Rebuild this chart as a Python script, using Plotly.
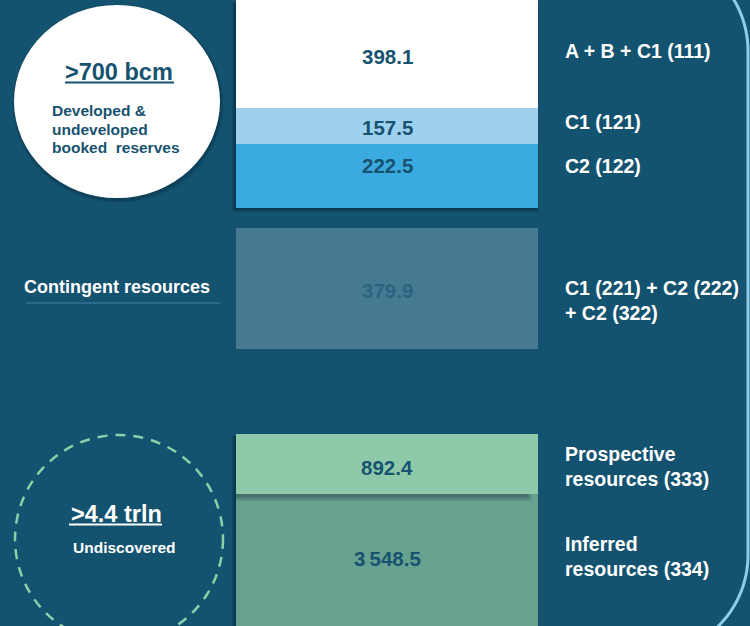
import numpy as np
import plotly.graph_objects as go

# ---------------- data ----------------
values = [398.1, 157.5, 222.5, 379.9, 892.4, 3548.5]
categories = [
    "A + B + C1 (111)",
    "C1 (121)",
    "C2 (122)",
    "C1 (221) + C2 (222)<br>+ C2 (322)",
    "Prospective<br>resources (333)",
    "Inferred<br>resources (334)",
]
group_titles = [">700 bcm", "Contingent resources", ">4.4 trln"]
group_notes = ["Developed &", "undeveloped", "booked  reserves", "Undiscovered"]

# ---------------- layout geometry (pixel-like units) ----------------
W, H = 750, 626
BAR_X, BAR_W = 387, 302
band_top = [0, 108, 144, 228, 434, 494]
band_h = [108, 36, 64, 121, 60, 140]
value_y = [56, 127, 165, 290, 467, 558]
label_y = [51, 122, 166, 300, 466, 556]
fills = ["#ffffff", "#9dd1ee", "#3aaae0", "#457a91", "#8ecaa9", "#67a190"]
txtcol = ["#17526f", "#17526f", "#17526f", "#2a6582", "#17526f", "#17526f"]
BG = "#14536f"
FONT = "Liberation Sans"


def fmt(v):
    return f"{v:,.1f}".replace(",", "\u2009")


fig = go.Figure()

for i, v in enumerate(values):
    fig.add_trace(go.Bar(
        x=[BAR_X], y=[band_h[i]], base=[band_top[i]], width=[BAR_W],
        marker=dict(color=fills[i], line=dict(width=0)),
        hovertext=[f"{categories[i]}: {fmt(v)}"], hoverinfo="text",
        showlegend=False,
    ))

ann = []
for i, v in enumerate(values):
    ann.append(dict(x=BAR_X, y=value_y[i], text=f"<b>{fmt(v)}</b>", showarrow=False,
                    xanchor="center", yanchor="middle",
                    font=dict(family=FONT, size=20.5, color=txtcol[i])))
    ann.append(dict(x=563, y=label_y[i], text=f"<b>{categories[i]}</b>", showarrow=False,
                    xanchor="left", yanchor="middle", align="left",
                    font=dict(family=FONT, size=19.5, color="white")))

# left group texts
ann.append(dict(x=119, y=72, text=f"<b>{group_titles[0]}</b>", showarrow=False,
                xanchor="center", yanchor="middle",
                font=dict(family=FONT, size=23.5, color="#17526f")))
for j, yy in enumerate([110, 129, 147]):
    ann.append(dict(x=50, y=yy, text=f"<b>{group_notes[j]}</b>", showarrow=False,
                    xanchor="left", yanchor="middle",
                    font=dict(family=FONT, size=15.5, color="#17526f")))
ann.append(dict(x=22, y=287, text=f"<b>{group_titles[1]}</b>", showarrow=False,
                xanchor="left", yanchor="middle",
                font=dict(family=FONT, size=18, color="white")))
ann.append(dict(x=116, y=514, text=f"<b>{group_titles[2]}</b>", showarrow=False,
                xanchor="center", yanchor="middle",
                font=dict(family=FONT, size=23.5, color="white")))
ann.append(dict(x=124, y=547, text=f"<b>{group_notes[3]}</b>", showarrow=False,
                xanchor="center", yanchor="middle",
                font=dict(family=FONT, size=15.5, color="white")))

shapes = []
# soft bar shadows (layered)
for k, a in enumerate([0.12, 0.14, 0.18]):
    d = 3 - k
    shapes.append(dict(type="rect", xref="x", yref="y", x0=236 - d - 1, x1=538 + d - 2,
                       y0=2, y1=208 + d + 1,
                       fillcolor=f"rgba(0,20,35,{a})", line=dict(width=0), layer="below"))
    shapes.append(dict(type="rect", xref="x", yref="y", x0=236 - d - 1, x1=538,
                       y0=436, y1=640,
                       fillcolor=f"rgba(0,20,35,{a})", line=dict(width=0), layer="below"))
# shadow of the light green band on the dark green one
for k, a in enumerate([0.10, 0.12, 0.15]):
    shapes.append(dict(type="rect", xref="x", yref="y", x0=236, x1=532 - 2 * k, y0=494, y1=501 - 2 * k,
                       fillcolor=f"rgba(0,20,35,{a})", line=dict(width=0), layer="above"))
# white circle soft shadow + circle
for k, a in enumerate([0.08, 0.10, 0.12]):
    d = 3 - k
    shapes.append(dict(type="circle", xref="x", yref="y", x0=14 - d + 1, x1=220 + d + 1,
                       y0=5 - d + 2, y1=198 + d + 2,
                       fillcolor=f"rgba(0,20,35,{a})", line=dict(width=0), layer="below"))
shapes.append(dict(type="circle", xref="x", yref="y", x0=14, x1=220, y0=5, y1=198,
                   fillcolor="white", line=dict(width=0), layer="below"))
# dashed circle
shapes.append(dict(type="circle", xref="x", yref="y", x0=15, x1=223, y0=435, y1=643,
                   fillcolor="rgba(0,0,0,0)", line=dict(color="#8ecfab", width=2.5, dash="10px,8px"),
                   layer="below"))
# underlines
shapes.append(dict(type="line", xref="x", yref="y", x0=65, x1=174, y0=82.5, y1=82.5,
                   line=dict(color="#17526f", width=2)))
shapes.append(dict(type="line", xref="x", yref="y", x0=69, x1=162, y0=524.5, y1=524.5,
                   line=dict(color="white", width=2)))
shapes.append(dict(type="line", xref="x", yref="y", x0=26, x1=220, y0=303, y1=303,
                   line=dict(color="#2b6a8a", width=2)))
# rounded border on the right
R = 100
cx = 748 - R
t1 = np.linspace(-np.pi / 2, 0, 40)
top_pts = [(cx + R * np.cos(t), 51 + R * np.sin(t)) for t in t1]
t2 = np.linspace(0, np.pi / 2, 40)
bot_pts = [(cx + R * np.cos(t), 555 + R * np.sin(t)) for t in t2]
pts = top_pts + bot_pts
path = "M " + " L ".join(f"{px:.2f},{py:.2f}" for px, py in pts)
shapes.append(dict(type="path", xref="x", yref="y", path=path,
                   line=dict(color="#8fcbea", width=3), layer="above"))

fig.update_layout(
    width=W, height=H,
    margin=dict(l=0, r=0, t=0, b=0),
    paper_bgcolor=BG, plot_bgcolor=BG,
    barmode="overlay",
    xaxis=dict(range=[0, W], visible=False, fixedrange=True),
    yaxis=dict(range=[H, 0], visible=False, fixedrange=True),
    annotations=ann, shapes=shapes,
    showlegend=False,
)

fig.write_html("out.html", config={"displayModeBar": False},
               post_script="document.body.style.margin='0px';document.body.style.background='%s';" % BG)
